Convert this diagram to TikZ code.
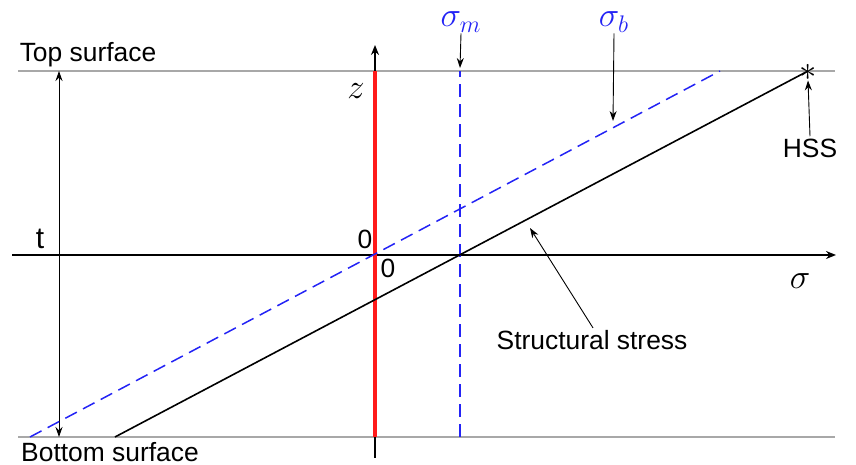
\documentclass[tikz,border=0pt]{standalone}
\usepackage{fontspec}
\setmainfont{Liberation Sans}
\usetikzlibrary{arrows.meta,positioning,calc}
\definecolor{srf}{HTML}{A8A8A8}
\definecolor{bl}{HTML}{2323F5}
\definecolor{rd}{HTML}{FF1A1A}
\tikzset{
  surf/.style={draw=srf,line width=1.1pt},
  axis/.style={-{Stealth[length=5pt,width=4pt]},line width=0.9pt},
  ar/.style={-{Stealth[length=5pt,width=3.5pt]},line width=0.45pt},
  dar/.style={{Stealth[length=5pt,width=3.5pt]}-{Stealth[length=5pt,width=3.5pt]},line width=0.45pt},
  bdash/.style={draw=bl,line width=0.75pt,dash pattern=on 6.5pt off 3.5pt},
  lbl/.style={font=\fontsize{13.2}{15}\selectfont,inner sep=1pt},
  mlbl/.style={font=\fontsize{17.5}{19}\selectfont,inner sep=0.5pt},
}
\begin{document}
\begin{tikzpicture}[x=0.5pt,y=0.5pt]
\useasboundingbox (0,0) rectangle (856,465);
% surfaces and axes
\coordinate (tl) at (18,394); \coordinate (tr) at (835,394);
\coordinate (bl) at (18,28);  \coordinate (br) at (835,28);
\coordinate (xa) at (12,210); \coordinate (xb) at (836,210);
\coordinate (za) at (375,7);  \coordinate (zb) at (375,420);
\draw[surf] (tl) -- (tr);
\draw[surf] (bl) -- (br);
\draw[axis] (xa) -- (xb);
\draw[axis] (za) -- (zb);
\draw[rd,line width=1.8pt] (375,28) -- (375,394);
\draw[dar] (59,394) -- (59,28);
% stress lines
\coordinate (m0) at (460,28); \coordinate (m1) at (460,394);
\coordinate (b0) at (30,28);  \coordinate (b1) at (720,394);
\coordinate (s0) at (115,28); \coordinate (s1) at (808,394);
\draw[bdash] (m0) -- (m1);
\draw[bdash] (b0) -- (b1);
\draw[line width=0.8pt] (s0) -- (s1);
% labels
\node[lbl] (top) at (88,410) {Top surface};
\node[lbl] (bot) at (110,13) {Bottom surface};
\node[lbl,font=\fontsize{15}{16}\selectfont] (t) at (40,226) {t};
\node[mlbl] (z) at (356,374) {$z$};
\node[mlbl] (sig) at (800,184) {$\sigma$};
\node[lbl] (o1) at (365,226) {0};
\node[lbl] (o2) at (388,197) {0};
\node[mlbl,text=bl] (sm) at (461,443) {$\sigma_m$};
\node[mlbl,text=bl] (sb) at (614,443) {$\sigma_b$};
\node[mlbl,font=\fontsize{18}{19}\selectfont,inner sep=0pt] (star) at (808,393) {$\ast$};
\node[lbl] (hss) at (810,317) {HSS};
\node[lbl] (ss) at (592,125) {Structural stress};
% pointers
\coordinate (bt) at (613,344);
\coordinate (st) at (530,237);
\draw[ar] (sm.south) -- (460,397);
\draw[ar] (sb.south) -- (bt);
\draw[ar] (hss.north) -- (star.south);
\draw[ar] ($(ss.north)+(1,0)$) -- (st);
\end{tikzpicture}
\end{document}
